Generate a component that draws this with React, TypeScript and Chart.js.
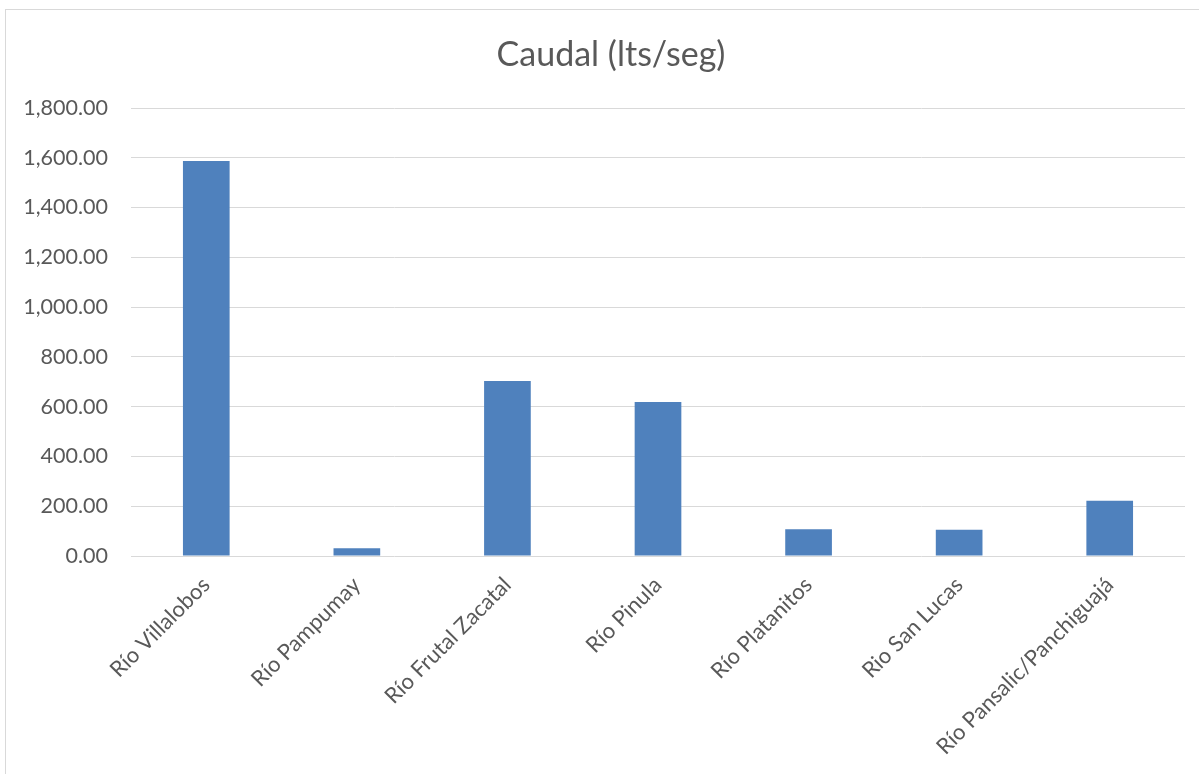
import React, { useEffect, useRef } from "react";
import { Chart, registerables } from "chart.js";

Chart.register(...registerables);

const chartTitle = "Caudal (lts/seg)";
const categories = [
  "Río Villalobos",
  "Río Pampumay",
  "Río Frutal Zacatal",
  "Río Pinula",
  "Río Platanitos",
  "Rio San Lucas",
  "Río Pansalic/Panchiguajá",
];
const caudalValues = [1587, 31, 703, 619, 107, 105, 222];
const yMin = 0;
const yMax = 1800;
const yStep = 200;

const FONT = "Lato, 'Open Sans', sans-serif";
const TEXT = "#595959";

const titlePlugin = {
  id: "centeredTitle",
  afterDraw(chart: any) {
    const ctx = chart.ctx;
    ctx.save();
    ctx.font = `normal 34px ${FONT}`;
    ctx.fillStyle = TEXT;
    ctx.textAlign = "center";
    ctx.textBaseline = "middle";
    ctx.fillText(chartTitle, 611, 55);
    ctx.restore();
  },
};

export default function App() {
  const canvasRef = useRef<HTMLCanvasElement | null>(null);

  useEffect(() => {
    const prevMargin = document.body.style.margin;
    document.body.style.margin = "0";
    const canvas = canvasRef.current;
    if (!canvas) return;
    const chart = new Chart(canvas, {
      type: "bar",
      data: {
        labels: categories,
        datasets: [
          {
            label: chartTitle,
            data: caudalValues,
            backgroundColor: "#4F81BD",
            borderWidth: 0,
            categoryPercentage: 1,
            barPercentage: 0.31,
          },
        ],
      },
      plugins: [titlePlugin],
      options: {
        animation: false,
        responsive: false,
        maintainAspectRatio: false,
        layout: { padding: { left: 0, right: 14, top: 108, bottom: 0 } },
        plugins: {
          legend: { display: false },
          tooltip: { enabled: false },
          title: { display: false },
        },
        scales: {
          x: {
            grid: { display: false, drawTicks: false },
            border: { display: false },
            ticks: {
              color: TEXT,
              font: { family: FONT, size: 22 },
              minRotation: 45,
              maxRotation: 45,
              padding: 16,
              autoSkip: false,
            },
            afterFit: (scale: any) => {
              scale.height = 218;
            },
          },
          y: {
            min: yMin,
            max: yMax,
            grid: { color: "#d9d9d9", lineWidth: 1, drawTicks: false },
            border: { display: false },
            ticks: {
              stepSize: yStep,
              color: TEXT,
              font: { family: FONT, size: 21.5 },
              padding: 23,
              callback: (v: any) =>
                Number(v).toLocaleString("en-US", {
                  minimumFractionDigits: 2,
                  maximumFractionDigits: 2,
                }),
            },
            afterFit: (scale: any) => {
              scale.width = 131;
            },
          },
        },
      },
    });
    return () => {
      chart.destroy();
      document.body.style.margin = prevMargin;
    };
  }, []);

  return (
    <div style={{ position: "relative", width: 1199, height: 774, background: "#fff" }}>
      <canvas ref={canvasRef} width={1199} height={774} style={{ position: "absolute", left: 0, top: 0 }} />
      <div
        style={{
          position: "absolute",
          left: 5,
          top: 9,
          width: 1199,
          height: 800,
          border: "1px solid #d9d9d9",
          boxSizing: "border-box",
          pointerEvents: "none",
        }}
      />
    </div>
  );
}
